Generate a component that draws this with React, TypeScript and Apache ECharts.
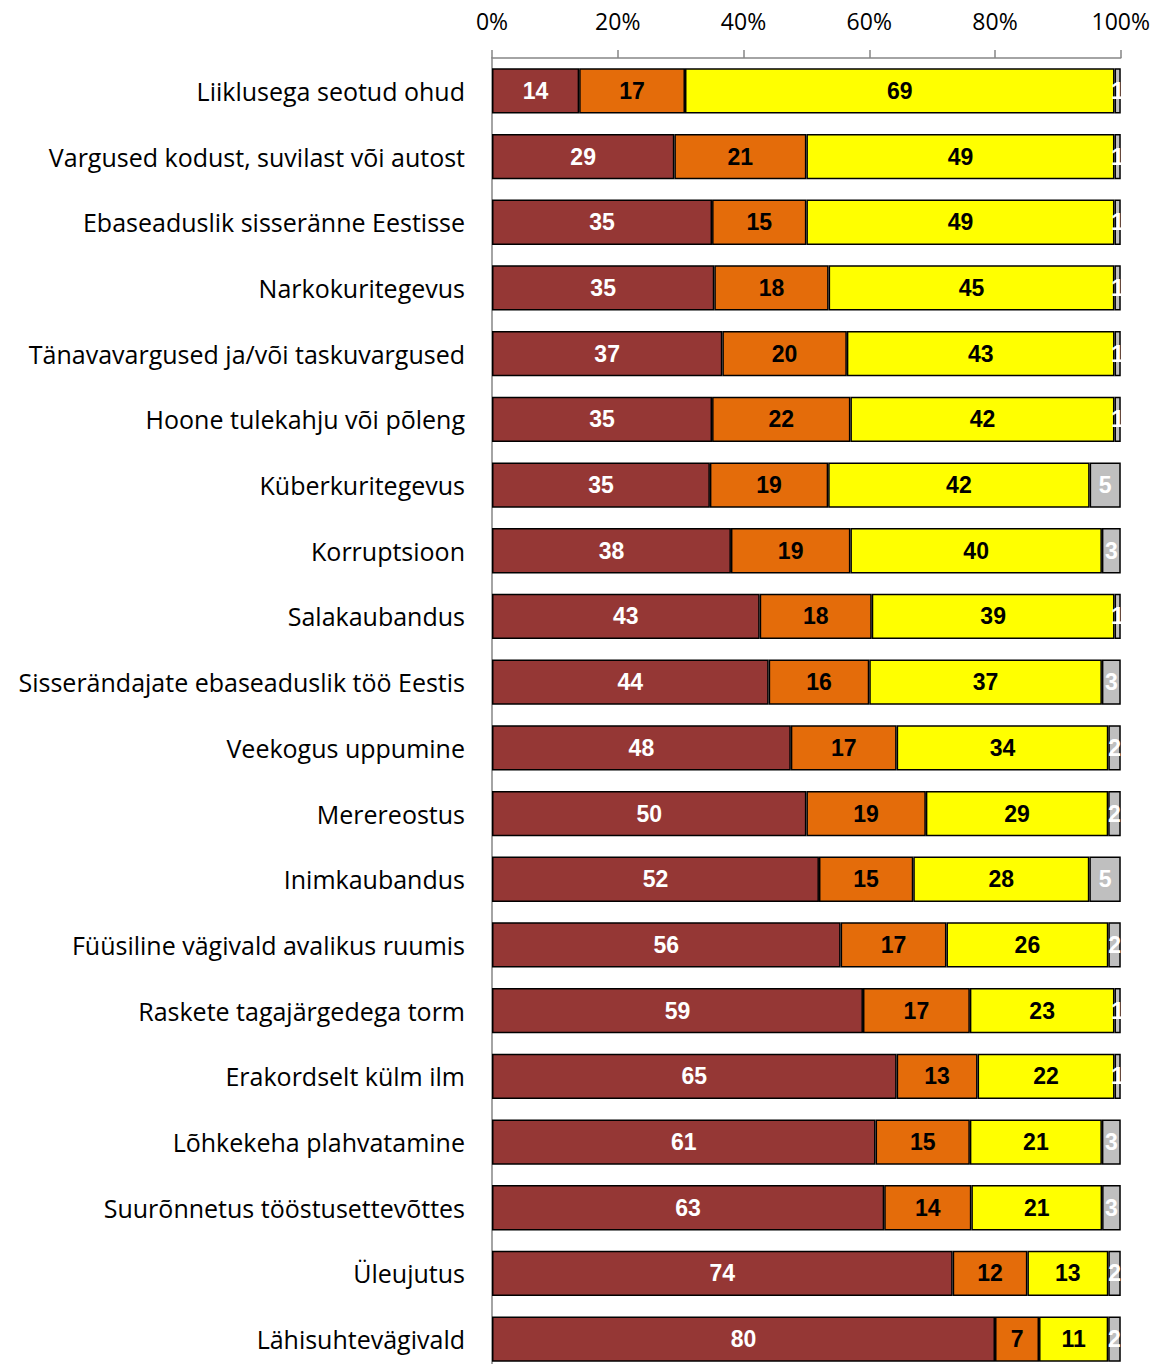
import React, { useEffect, useRef } from "react";
import * as echarts from "echarts";

const categories = [
  "Liiklusega seotud ohud",
  "Vargused kodust, suvilast või autost",
  "Ebaseaduslik sisseränne Eestisse",
  "Narkokuritegevus",
  "Tänavavargused ja/või taskuvargused",
  "Hoone tulekahju või põleng",
  "Küberkuritegevus",
  "Korruptsioon",
  "Salakaubandus",
  "Sisserändajate ebaseaduslik töö Eestis",
  "Veekogus uppumine",
  "Merereostus",
  "Inimkaubandus",
  "Füüsiline vägivald avalikus ruumis",
  "Raskete tagajärgedega torm",
  "Erakordselt külm ilm",
  "Lõhkekeha plahvatamine",
  "Suurõnnetus tööstusettevõttes",
  "Üleujutus",
  "Lähisuhtevägivald",
];

const seriesA = [14, 29, 35, 35, 37, 35, 35, 38, 43, 44, 48, 50, 52, 56, 59, 65, 61, 63, 74, 80];
const seriesB = [17, 21, 15, 18, 20, 22, 19, 19, 18, 16, 17, 19, 15, 17, 17, 13, 15, 14, 12, 7];
const seriesC = [69, 49, 49, 45, 43, 42, 42, 40, 39, 37, 34, 29, 28, 26, 23, 22, 21, 21, 13, 11];
const seriesD = [1, 1, 1, 1, 1, 1, 5, 3, 1, 3, 2, 2, 5, 2, 1, 1, 3, 3, 2, 2];

const tickLabels = ["0%", "20%", "40%", "60%", "80%", "100%"];

const colors = ["#953735", "#E46C0A", "#FFFF00", "#BFBFBF"];
const labelColors = ["#FFFFFF", "#000000", "#000000", "#FFFFFF"];

export default function App() {
  const ref = useRef<HTMLDivElement>(null);
  useEffect(() => {
    document.body.style.margin = "0";
    if (!ref.current) return;
    const chart = echarts.init(ref.current, null, { renderer: "svg" });
    const all = [seriesA, seriesB, seriesC, seriesD];
    const totals = categories.map((_, i) => all.reduce((s, arr) => s + arr[i], 0));
    const series = all.map((arr, si) => ({
      type: "bar",
      stack: "total",
      barCategoryGap: "31%",
      data: arr.map((v, i) => (v / totals[i]) * 100),
      itemStyle: { color: colors[si], borderColor: "#000000", borderWidth: 1.5 },
      label: {
        show: true,
        position: "inside",
        color: labelColors[si],
        fontFamily: "'Liberation Sans Narrow', 'Arial Narrow', 'Liberation Sans', sans-serif",
        fontWeight: "bold",
        fontSize: 23,
        formatter: (p: any) => String(arr[p.dataIndex]),
      },
      emphasis: { disabled: true },
    }));
    chart.setOption({
      animation: false,
      grid: { left: 492, right: 32, top: 58, bottom: 0 },
      xAxis: {
        type: "value",
        position: "top",
        min: 0,
        max: 100,
        interval: 20,
        axisLine: { show: true, lineStyle: { color: "#868686", width: 1.5 } },
        axisTick: { show: true, length: 8, lineStyle: { color: "#868686", width: 1.5 } },
        splitLine: { show: false },
        axisLabel: {
          formatter: (v: number) => tickLabels[Math.round(v / 20)],
          fontFamily: "'Open Sans', sans-serif",
          fontSize: 23,
          color: "#000000",
          margin: 26,
        },
      },
      yAxis: {
        type: "category",
        inverse: true,
        data: categories,
        axisLine: { show: true, lineStyle: { color: "#868686", width: 1.5 } },
        axisTick: { show: false },
        axisLabel: {
          fontFamily: "'Open Sans', sans-serif",
          fontSize: 25,
          color: "#000000",
          margin: 27,
        },
      },
      series,
    });
    return () => chart.dispose();
  }, []);
  return (
    <div style={{ width: 1153, height: 1364, overflow: "hidden" }}>
      <div ref={ref} style={{ width: 1153, height: 1372 }} />
    </div>
  );
}
